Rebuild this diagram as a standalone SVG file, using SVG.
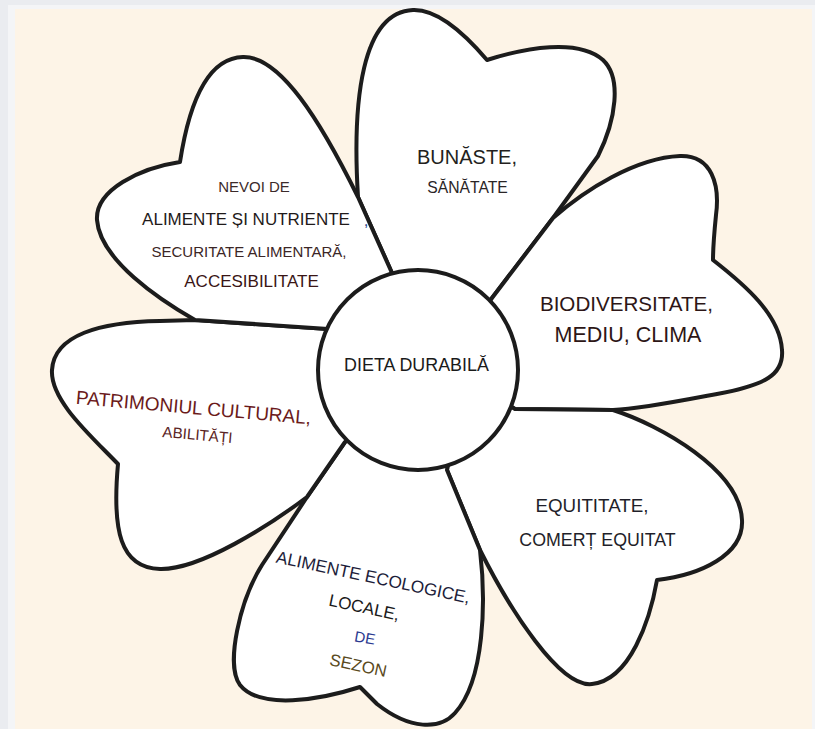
<svg xmlns="http://www.w3.org/2000/svg" width="815" height="729" viewBox="0 0 815 729">
<style>
.petal{fill:#ffffff;stroke:#1c1c1c;stroke-width:4;stroke-linejoin:round;stroke-linecap:round}
.t{font-family:"Liberation Sans",Arial,sans-serif;text-anchor:middle}
</style>
<rect x="0" y="0" width="815" height="729" fill="#eaecf0"/>
<rect x="8" y="5" width="807" height="724" fill="#f4f5f7"/>
<rect x="15" y="9" width="797" height="720" fill="#fdf4e7"/>

<g id="petal-bunastare">
<path class="petal" d="M 398,292 L 392,273 L 358,197 C 352,100 362,12 413,10 C 440,9 470,40 487,60 C 525,48 578,38 603,60 C 622,78 616,120 598,156 L 553,218 L 492,298 L 480,315 Z"/>
<text class="t" x="467" y="164" font-size="20" fill="#231f20">BUNĂSTE,</text>
<text class="t" x="467.5" y="193" font-size="15.7" fill="#2a2526">SĂNĂTATE</text>
</g>

<g id="petal-biodiversitate">
<path class="petal" d="M 480,315 L 492,298 L 553,218 C 585,190 635,158 680,156 C 712,155 720,185 716,215 C 714,235 713,250 713,260 C 745,285 780,315 782,350 C 784,375 765,385 717,394 C 680,401 640,409 613,410 L 515,409 L 500,400 Z"/>
<text class="t" x="626.5" y="311" font-size="20.6" fill="#2d1616">BIODIVERSITATE,</text>
<text class="t" x="628" y="342" font-size="21.5" fill="#2d1616">MEDIU, CLIMA</text>
</g>

<g id="petal-equitate">
<path class="petal" d="M 500,400 L 515,409 L 613,410 C 660,425 740,470 742,520 C 744,555 700,575 657,580 C 650,620 630,680 592,684 C 560,688 510,610 480,550 L 447,470 L 450,450 Z"/>
<text class="t" x="592" y="512" font-size="18.8" fill="#1f1f2a">EQUITITATE,</text>
<text class="t" x="597.5" y="546" font-size="17.8" fill="#1f1f2a">COMERȚ EQUITAT</text>
</g>

<g id="petal-alimente-ecologice">
<path class="petal" d="M 450,450 L 447,470 L 480,550 C 486,600 485,680 455,713 C 440,730 410,730 377,704 L 360,687 C 320,700 260,710 240,685 C 225,665 240,600 262,565 L 307,497 L 345,442 L 360,430 Z"/>
<text class="t" x="372" y="583" font-size="17.2" fill="#1d1d3a" transform="rotate(12 372 583)">ALIMENTE ECOLOGICE,</text>
<text class="t" x="363" y="613" font-size="17" fill="#1a1a1a" transform="rotate(12 363 613)">LOCALE,</text>
<text class="t" x="364" y="643" font-size="15" fill="#2b3990" transform="rotate(10 364 643)">DE</text>
<text class="t" x="357" y="671" font-size="16.8" fill="#5a4a20" transform="rotate(12 357 671)">SEZON</text>
</g>

<g id="petal-patrimoniu">
<path class="petal" d="M 360,430 L 345,442 L 307,497 C 270,525 200,570 160,569 C 120,568 112,530 118,464 C 90,435 50,400 52,370 C 54,335 100,322 160,321 L 195,320 L 328,329 L 340,345 Z"/>
<text class="t" x="193" y="414" font-size="19" fill="#6b1a1a" transform="rotate(5 193 414)">PATRIMONIUL CULTURAL,</text>
<text class="t" x="197" y="440" font-size="15.2" fill="#5a2424" transform="rotate(5 197 440)">ABILITĂȚI</text>
</g>

<g id="petal-nevoi">
<path class="petal" d="M 340,345 L 328,329 L 195,320 C 160,300 100,260 97,220 C 95,190 140,168 180,162 C 188,110 205,58 243,57 C 280,56 320,120 358,197 L 392,273 L 398,292 Z"/>
<text class="t" x="254" y="192" font-size="15" fill="#3b2a2a">NEVOI DE</text>
<text class="t" x="246" y="225" font-size="17" fill="#1f1a1a">ALIMENTE ȘI NUTRIENTE</text>
<text class="t" x="366" y="226" font-size="17" fill="#2a4a8a">,</text>
<text class="t" x="249" y="257" font-size="15" fill="#3b2626">SECURITATE ALIMENTARĂ,</text>
<text class="t" x="251.5" y="287" font-size="17" fill="#3a1515">ACCESIBILITATE</text>
</g>

<g id="center">
<circle cx="418" cy="370" r="100" fill="#ffffff" stroke="#1c1c1c" stroke-width="4"/>
<text class="t" x="416.5" y="371" font-size="17.9" fill="#1a1a1a">DIETA DURABILĂ</text>
</g>
</svg>
